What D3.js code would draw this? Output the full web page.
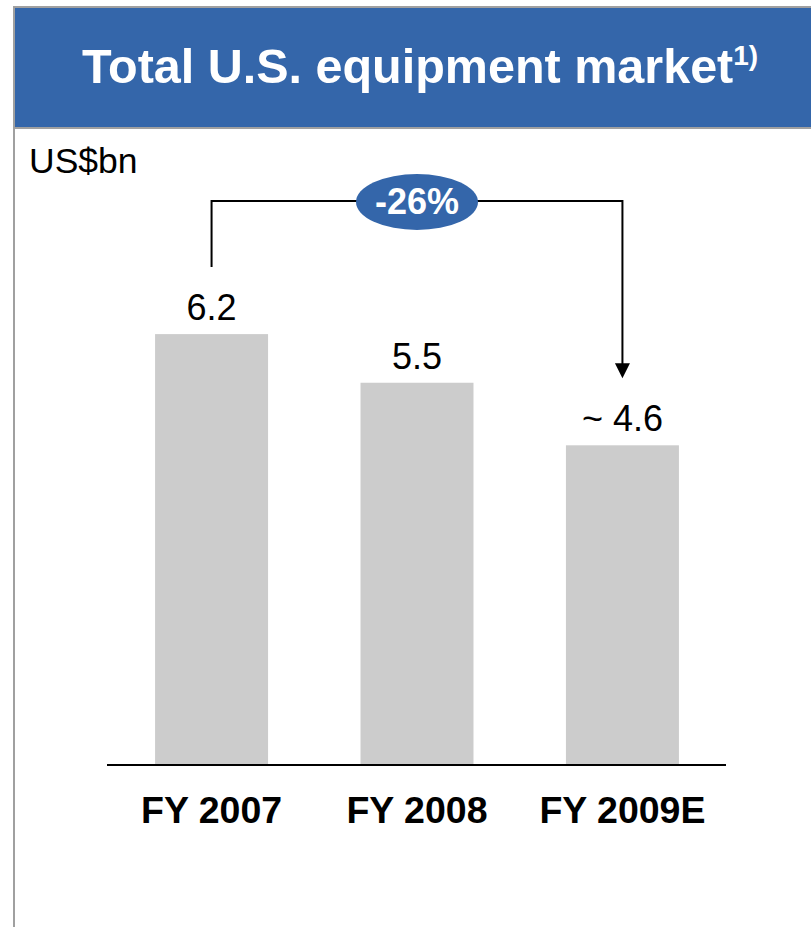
<!DOCTYPE html>
<html>
<head>
<meta charset="utf-8">
<script src="https://cdn.jsdelivr.net/npm/d3@7"></script>
<style>
  body { margin: 0; background: #fff; }
  text { font-family: "Liberation Sans", Arial, sans-serif; }
</style>
</head>
<body>
<svg id="chart"></svg>
<script>
var categories = ["FY 2007", "FY 2008", "FY 2009E"];
var values = [6.2, 5.5, 4.6];
var valueLabels = ["6.2", "5.5", "~ 4.6"];
var changeLabel = "-26%";

var W = 811, H = 927;
var blue = "#3466aa";
var baseY = 765;

var svg = d3.select("#chart").attr("width", W).attr("height", H);

// frame + header band
svg.append("rect").attr("x", 14).attr("y", 7).attr("width", W).attr("height", 121)
    .attr("fill", blue);
svg.append("line").attr("x1", 14).attr("x2", W).attr("y1", 7).attr("y2", 7)
    .attr("stroke", "#a0a0a0").attr("stroke-width", 2);
svg.append("line").attr("x1", 14).attr("x2", W).attr("y1", 128).attr("y2", 128)
    .attr("stroke", "#a0a0a0").attr("stroke-width", 2);
svg.append("line").attr("x1", 14).attr("x2", 14).attr("y1", 6).attr("y2", H)
    .attr("stroke", "#a0a0a0").attr("stroke-width", 2);

var title = svg.append("text").attr("x", 82).attr("y", 83)
    .attr("fill", "#fff").attr("font-weight", "bold").attr("font-size", 48.5);
title.append("tspan").text("Total U.S. equipment market");
title.append("tspan").attr("font-size", 28).attr("dy", -18).text("1)");

svg.append("text").attr("x", 29).attr("y", 173).attr("font-size", 35.5)
    .attr("fill", "#000").text("US$bn");

var x = d3.scaleBand().domain(categories).range([107, 727])
    .paddingInner(0.45).paddingOuter(0.234);
var y = d3.scaleLinear().domain([0, 1]).range([baseY, baseY - 69.5]);

svg.selectAll("rect.bar").data(values).enter().append("rect")
    .attr("class", "bar")
    .attr("x", function(d, i) { return x(categories[i]); })
    .attr("y", function(d) { return y(d); })
    .attr("width", x.bandwidth())
    .attr("height", function(d) { return baseY - y(d); })
    .attr("fill", "#cccccc");

svg.selectAll("text.val").data(values).enter().append("text")
    .attr("class", "val")
    .attr("x", function(d, i) { return x(categories[i]) + x.bandwidth() / 2; })
    .attr("y", function(d) { return y(d) - 14; })
    .attr("text-anchor", "middle").attr("font-size", 36)
    .text(function(d, i) { return valueLabels[i]; });

// baseline axis
var axis = d3.axisBottom(x).tickSize(0).tickPadding(31);
var gx = svg.append("g").attr("transform", "translate(0," + baseY + ")").call(axis);
gx.select(".domain").attr("stroke", "#000").attr("stroke-width", 2)
    .attr("d", "M107,0H726");
gx.selectAll(".tick text").attr("font-size", 37.5).attr("font-weight", "bold")
    .attr("fill", "#000").attr("font-family", "Liberation Sans, Arial, sans-serif")
    .attr("dy", "0.71em");

// change bracket from first to last bar
var x0 = x(categories[0]) + x.bandwidth() / 2;
var x2 = x(categories[2]) + x.bandwidth() / 2;
var topY = 201;
var startY = y(values[0]) - 67;
var tipY = y(values[2]) - 67;

svg.append("path")
    .attr("d", "M" + x0 + "," + startY + "V" + topY + "H" + x2 + "V" + (tipY - 14))
    .attr("fill", "none").attr("stroke", "#000").attr("stroke-width", 2);
svg.append("path")
    .attr("d", "M" + (x2 - 7.5) + "," + (tipY - 15) + "L" + (x2 + 7.5) + "," + (tipY - 15) + "L" + x2 + "," + tipY + "Z")
    .attr("fill", "#000");

var cx = (x0 + x2) / 2;
svg.append("ellipse").attr("cx", cx).attr("cy", 202).attr("rx", 61).attr("ry", 28)
    .attr("fill", blue);
svg.append("text").attr("x", cx).attr("y", 214).attr("text-anchor", "middle")
    .attr("font-size", 36).attr("font-weight", "bold").attr("fill", "#fff")
    .text(changeLabel);
</script>
</body>
</html>
